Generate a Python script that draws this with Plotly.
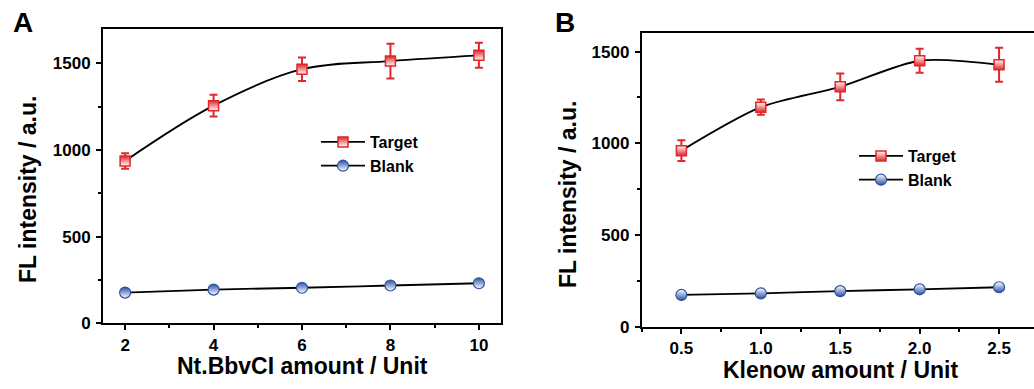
import plotly.graph_objects as go

# ---- data ----
xA = [2, 4, 6, 8, 10]
targetA = [936, 1255, 1465, 1512, 1545]
targetA_err = [45, 63, 68, 100, 72]
blankA = [177, 194, 205, 218, 231]

xB = [0.5, 1.0, 1.5, 2.0, 2.5]
xB_labels = ["0.5", "1.0", "1.5", "2.0", "2.5"]
targetB = [960, 1197, 1308, 1450, 1428]
targetB_err = [56, 42, 73, 65, 93]
blankB = [173, 182, 194, 204, 215]

RED = "#e0272b"
BLUE = "#2a4fa3"
W, H = 1034, 389

fig = go.Figure()

def add_panel(x, tgt, err, blk, xa, ya, leg, flip, smooth):
    fig.add_trace(go.Scatter(
        x=x, y=tgt, mode="lines+markers", name="Target",
        line=dict(color="black", width=1.8, shape="spline", smoothing=smooth),
        marker=dict(symbol="square", size=10, color=RED if not flip else "white",
                    line=dict(color=RED, width=1.5),
                    gradient=dict(type="vertical", color="white" if not flip else RED)),
        error_y=dict(type="data", array=err, color=RED, thickness=2, width=4),
        xaxis=xa, yaxis=ya, legend=leg))
    fig.add_trace(go.Scatter(
        x=x, y=blk, mode="lines+markers", name="Blank",
        line=dict(color="black", width=1.8, shape="spline"),
        marker=dict(symbol="circle", size=11, color=BLUE if not flip else "white",
                    line=dict(color=BLUE, width=1.2),
                    gradient=dict(type="vertical", color="white" if not flip else BLUE)),
        xaxis=xa, yaxis=ya, legend=leg))

add_panel(xA, targetA, targetA_err, blankA, "x", "y", "legend", False, 1.0)
add_panel(xB, targetB, targetB_err, blankB, "x2", "y2", "legend2", True, 0.8)

tickfont = dict(family="Arial", size=17, color="black", weight="bold")
axis_common = dict(showline=True, linecolor="black", linewidth=1.8, ticks="outside",
                   ticklen=5, tickwidth=1.5, tickcolor="black", showgrid=False,
                   zeroline=False, tickfont=tickfont, automargin=False)

legfont = dict(family="Arial", size=16, color="black", weight="bold")

fig.update_layout(
    width=W, height=H, margin=dict(l=0, r=0, t=0, b=0, autoexpand=False),
    paper_bgcolor="white", plot_bgcolor="white",
    xaxis=dict(domain=[103 / W, 501 / W], range=[1.5, 10.5], tickvals=xA,
               minor=dict(dtick=1, tick0=1, ticks="outside", ticklen=3, tickcolor="black"),
               mirror=True, anchor="y", **axis_common),
    yaxis=dict(domain=[(H - 323.3) / H, (H - 29) / H], range=[0, 1697], dtick=500,
               ticklabelstandoff=2,
               minor=dict(dtick=250, ticks="outside", ticklen=3, tickcolor="black"),
               mirror=True, anchor="x", **axis_common),
    xaxis2=dict(domain=[641.7 / W, 1.0], range=[0.25, 2.72], tickvals=xB,
                ticktext=xB_labels,
                minor=dict(dtick=0.25, tick0=0.25, ticks="outside", ticklen=3, tickcolor="black"),
                mirror=True, anchor="y2", **axis_common),
    yaxis2=dict(domain=[(H - 326.7) / H, (H - 32.7) / H], range=[0, 1603], dtick=500,
                ticklabelstandoff=2,
                minor=dict(dtick=250, ticks="outside", ticklen=3, tickcolor="black"),
                mirror=False, anchor="x2", **axis_common),
    legend=dict(x=316 / W, y=(H - 125) / H, xanchor="left", yanchor="top",
                bgcolor="rgba(0,0,0,0)", tracegroupgap=0, itemwidth=44, font=legfont),
    legend2=dict(x=854 / W, y=(H - 139) / H, xanchor="left", yanchor="top",
                 bgcolor="rgba(0,0,0,0)", tracegroupgap=0, itemwidth=44, font=legfont),
    showlegend=True,
)

titlefont = dict(family="Arial", size=23, color="black", weight="bold")
ann = [
    dict(text="Nt.BbvCI amount / Unit", x=(103 + 501) / 2 / W, y=(H - 366) / H,
         xref="paper", yref="paper", showarrow=False, font=titlefont,
         xanchor="center", yanchor="middle"),
    dict(text="FL intensity / a.u.", x=28 / W, y=(H - 190) / H, textangle=-90,
         xref="paper", yref="paper", showarrow=False, font=titlefont,
         xanchor="center", yanchor="middle"),
    dict(text="Klenow amount / Unit", x=840 / W, y=(H - 370) / H,
         xref="paper", yref="paper", showarrow=False, font=titlefont,
         xanchor="center", yanchor="middle"),
    dict(text="FL intensity / a.u.", x=568 / W, y=(H - 195) / H, textangle=-90,
         xref="paper", yref="paper", showarrow=False, font=titlefont,
         xanchor="center", yanchor="middle"),
    dict(text="A", x=23 / W, y=(H - 22) / H, xref="paper", yref="paper",
         showarrow=False, font=dict(family="Arial", size=28, color="black", weight="bold"),
         xanchor="center", yanchor="middle"),
    dict(text="B", x=565 / W, y=(H - 22) / H, xref="paper", yref="paper",
         showarrow=False, font=dict(family="Arial", size=28, color="black", weight="bold"),
         xanchor="center", yanchor="middle"),
]
fig.update_layout(annotations=ann)

fig.write_html("out.html")
